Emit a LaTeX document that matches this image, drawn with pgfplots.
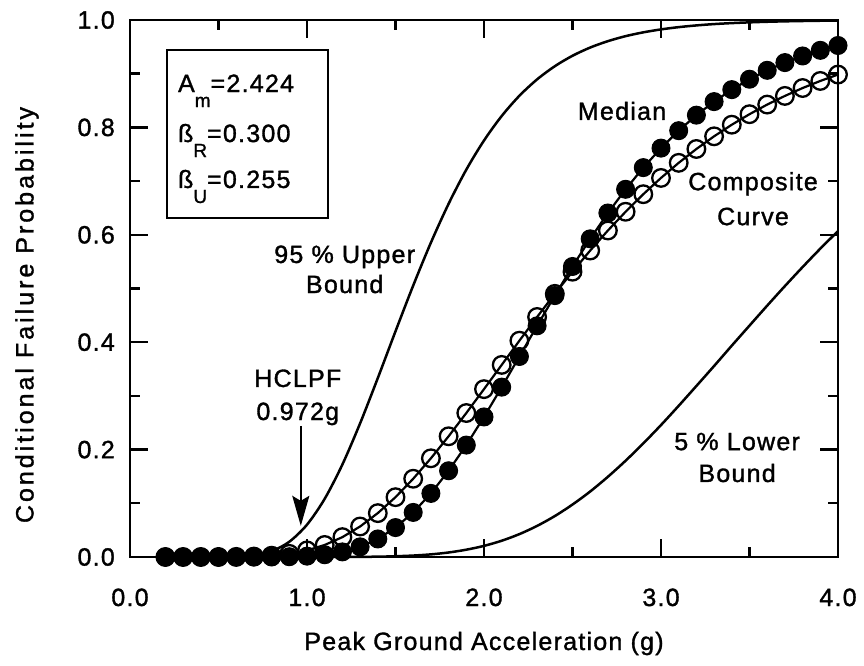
\documentclass[border=0pt]{standalone}
\usepackage{fontspec}
\setmainfont{Liberation Sans}[LetterSpace=5, RawFeature={embolden=1.3}]
\newfontfamily\ylabfont{Liberation Sans}[LetterSpace=12, RawFeature={embolden=1.3}]
\usepackage{pgfplots}
\usepackage{pgfplotstable}
\pgfplotsset{compat=1.18}
\usetikzlibrary{arrows.meta}

% Fragility curves: A_m = 2.424 g, beta_R = 0.300, beta_U = 0.255
\pgfplotstableread{
x    med     comp    up      low
0.2  0.0000  0.0000  0.0000  0.0000
0.3  0.0000  0.0000  0.0000  0.0000
0.4  0.0000  0.0000  0.0000  0.0000
0.5  0.0000  0.0000  0.0001  0.0000
0.6  0.0000  0.0002  0.0006  0.0000
0.7  0.0000  0.0008  0.0031  0.0000
0.8  0.0000  0.0024  0.0108  0.0000
0.9  0.0005  0.0059  0.0284  0.0000
1.0  0.0016  0.0123  0.0602  0.0000
1.1  0.0042  0.0224  0.1084  0.0000
1.2  0.0095  0.0370  0.1723  0.0001
1.3  0.0189  0.0568  0.2489  0.0003
1.4  0.0336  0.0817  0.3332  0.0006
1.5  0.0548  0.1114  0.4203  0.0014
1.6  0.0830  0.1457  0.5055  0.0027
1.7  0.1184  0.1838  0.5854  0.0049
1.8  0.1606  0.2248  0.6577  0.0084
1.9  0.2084  0.2681  0.7213  0.0136
2.0  0.2608  0.3126  0.7756  0.0207
2.1  0.3163  0.3577  0.8212  0.0303
2.2  0.3734  0.4028  0.8589  0.0426
2.3  0.4305  0.4470  0.8894  0.0579
2.4  0.4868  0.4900  0.9139  0.0762
2.5  0.5410  0.5313  0.9334  0.0977
2.6  0.5925  0.5707  0.9487  0.1220
2.7  0.6406  0.6080  0.9606  0.1494
2.8  0.6847  0.6429  0.9699  0.1793
2.9  0.7251  0.6756  0.9770  0.2116
3.0  0.7614  0.7059  0.9825  0.2457
3.1  0.7939  0.7340  0.9867  0.2816
3.2  0.8228  0.7598  0.9899  0.3185
3.3  0.8480  0.7834  0.9924  0.3557
3.4  0.8703  0.8050  0.9942  0.3936
3.5  0.8897  0.8246  0.9956  0.4309
3.6  0.9063  0.8425  0.9967  0.4681
3.7  0.9207  0.8586  0.9975  0.5045
3.8  0.9330  0.8733  0.9981  0.5399
3.9  0.9435  0.8865  0.9986  0.5742
4.0  0.9525  0.8984  0.9989  0.6069
}\fragility

\newcommand{\bigfont}{\fontsize{25}{30}\selectfont}
\newcommand{\subfont}{\fontsize{19}{19}\selectfont}

\begin{document}
\begin{tikzpicture}
\begin{axis}[
  name=ax,
  scale only axis,
  width=708pt, height=537pt,
  xmin=0, xmax=4, ymin=0, ymax=1,
  clip=false,
  axis line style={line width=2.6pt},
  every tick/.style={line width=2.4pt, black},
  major tick length=18pt,
  minor tick length=10pt,
  tick align=inside,
  xtick={0,1,2,3,4},
  xticklabels={0.0,1.0,2.0,3.0,4.0},
  minor xtick={0.5,1.5,2.5,3.5},
  ytick={0,0.2,0.4,0.6,0.8,1.0},
  yticklabels={0.0,0.2,0.4,0.6,0.8,1.0},
  minor ytick={0.1,0.3,0.5,0.7,0.9},
  tick label style={font=\bigfont},
  xticklabel style={anchor=base, inner sep=0pt, yshift=-49pt},
  yticklabel style={anchor=east, inner sep=0pt, xshift=-15pt},
  xlabel={Peak Ground Acceleration (g)},
  ylabel={\ylabfont Conditional Failure Probability},
  xlabel style={font=\bigfont, at={(axis description cs:0.5,0)}, anchor=base, inner sep=0pt, yshift=-93pt},
  ylabel style={font=\bigfont, at={(axis description cs:-0.1455,0.4507)}, anchor=center, inner sep=0pt},
]
% bounds
\addplot[black, line width=2.5pt, smooth] table[x=x, y=up] {\fragility};
\addplot[black, line width=2.5pt, smooth] table[x=x, y=low] {\fragility};
% composite curve (open circles)
\addplot[black, line width=2.2pt, mark=o, mark size=8.8pt, mark options={line width=2.3pt}] table[x=x, y=comp] {\fragility};
% median curve (filled circles)
\addplot[black, line width=2.2pt, mark=*, mark size=9pt, mark options={fill=black, line width=1pt}] table[x=x, y=med] {\fragility};

% parameter box
\draw[line width=2.4pt] (axis cs:0.2087,0.6313) rectangle (axis cs:1.1171,0.9441);
\node[font=\bigfont, anchor=base west, inner sep=0pt] at (axis cs:0.2708,0.8659) {A\raisebox{-15pt}{\subfont m}=2.424};
\node[font=\bigfont, anchor=base west, inner sep=0pt] at (axis cs:0.2708,0.7728) {ß\raisebox{-15pt}{\subfont R}=0.300};
\node[font=\bigfont, anchor=base west, inner sep=0pt] at (axis cs:0.2708,0.6872) {ß\raisebox{-15pt}{\subfont U}=0.255};

% curve labels
\node[font=\bigfont, anchor=base, inner sep=0pt] at (axis cs:2.78,0.814) {Median};
\node[font=\bigfont, anchor=base, inner sep=0pt] at (axis cs:3.52,0.683) {Composite};
\node[font=\bigfont, anchor=base, inner sep=0pt] at (axis cs:3.52,0.618) {Curve};
\node[font=\bigfont, anchor=base, inner sep=0pt] at (axis cs:1.213,0.5475) {95 \% Upper};
\node[font=\bigfont, anchor=base, inner sep=0pt] at (axis cs:1.213,0.4916) {Bound};
\node[font=\bigfont, anchor=base, inner sep=0pt] at (axis cs:0.948,0.3166) {HCLPF};
\node[font=\bigfont, anchor=base, inner sep=0pt] at (axis cs:0.948,0.2551) {0.972g};
\node[font=\bigfont, anchor=base, inner sep=0pt] at (axis cs:3.43,0.199) {5 \% Lower};
\node[font=\bigfont, anchor=base, inner sep=0pt] at (axis cs:3.43,0.1397) {Bound};

% HCLPF arrow
\draw[line width=2.2pt, -{Stealth[length=30pt, width=17pt, inset=5pt]}] (axis cs:0.965,0.244) -- (axis cs:0.965,0.058);
\end{axis}
\pgfresetboundingbox
\path[use as bounding box] ([shift={(-130pt,-109pt)}]ax.south west) rectangle ([shift={(26pt,20pt)}]ax.north east);
\end{tikzpicture}
\end{document}
